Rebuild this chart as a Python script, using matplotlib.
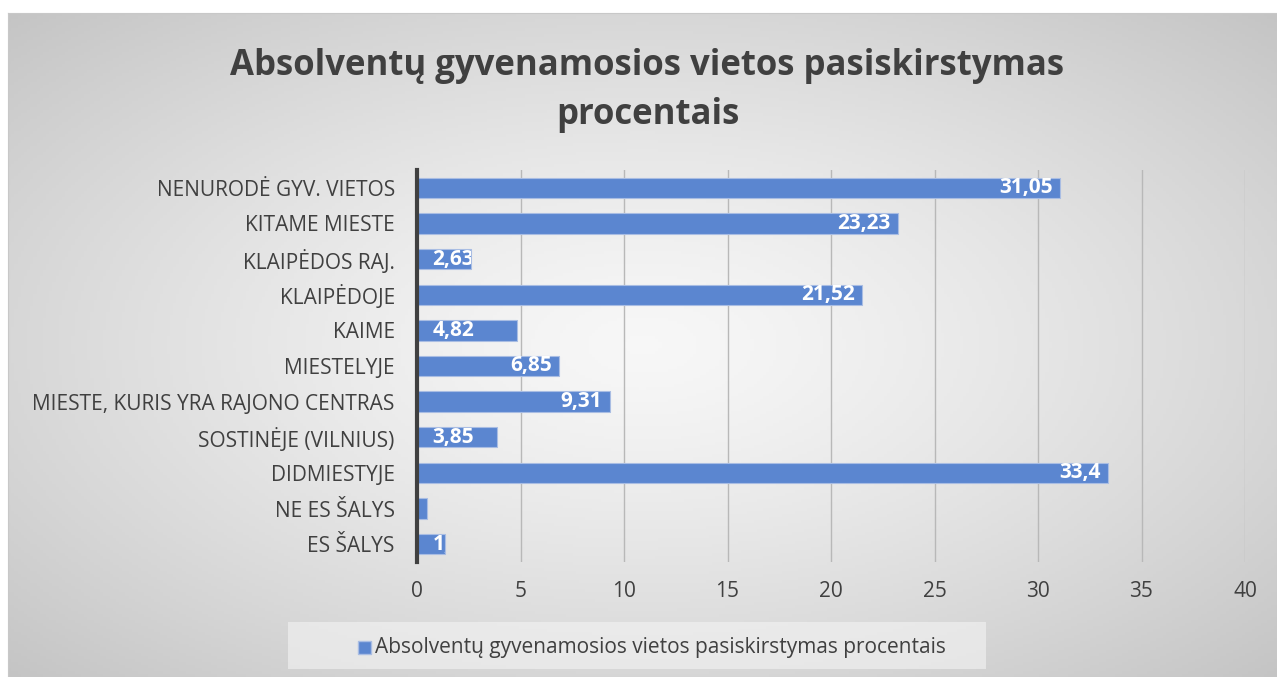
import numpy as np
import matplotlib.pyplot as plt
from matplotlib.patches import Rectangle

plt.rcParams["font.family"] = ["Open Sans", "DejaVu Sans"]

# duomenys
categories = ["NENURODĖ GYV. VIETOS", "KITAME MIESTE", "KLAIPĖDOS RAJ.", "KLAIPĖDOJE",
              "KAIME", "MIESTELYJE", "MIESTE, KURIS YRA RAJONO CENTRAS",
              "SOSTINĖJE (VILNIUS)", "DIDMIESTYJE", "NE ES ŠALYS", "ES ŠALYS"]
values = [31.05, 23.23, 2.63, 21.52, 4.82, 6.85, 9.31, 3.85, 33.4, 0.48, 1.35]
labels = ["31,05", "23,23", "2,63", "21,52", "4,82", "6,85", "9,31", "3,85", "33,4", "0,48", "1,35"]
title = "Absolventų gyvenamosios vietos pasiskirstymas\nprocentais"
series_name = "Absolventų gyvenamosios vietos pasiskirstymas procentais"

bar_color = "#5B86D0"
text_color = "#404040"

fig = plt.figure(figsize=(12.77, 6.77), dpi=100)

# fonas su radialiniu gradientu
bg = fig.add_axes([8 / 1277, 0, 1 - 8 / 1277, 1 - 13 / 677])
gx, gy = np.meshgrid(np.linspace(-1, 1, 400), np.linspace(-1, 1, 220))
r = np.sqrt(gx ** 2 + gy ** 2) / np.sqrt(2)
g = 0.97 - 0.20 * r ** 1.3
bg.imshow(np.dstack([g, g, g]), aspect="auto", extent=[0, 1, 0, 1])
bg.set_xlim(0, 1)
bg.set_ylim(0, 1)
for s in bg.spines.values():
    s.set_color("#c8c8c8")
bg.set_xticks([])
bg.set_yticks([])

ax = fig.add_axes([417 / 1277, 1 - 562 / 677, (1245 - 417) / 1277, (562 - 170) / 677])
ax.patch.set_alpha(0)
y = np.arange(len(categories))
bars = ax.barh(y, values, height=0.57, color=bar_color, edgecolor="#a9bde3", linewidth=0.8, zorder=3)
ax.set_xlim(0, 40)
ax.set_ylim(len(categories) - 0.5, -0.5)
ax.set_yticks(y)
ax.set_yticklabels(categories, fontsize=15, color=text_color)
ax.set_xticks(range(0, 41, 5))
ax.tick_params(axis="x", labelsize=15, labelcolor=text_color, length=0, pad=14)
ax.tick_params(axis="y", length=0, pad=16)
ax.grid(axis="x", color="#b8b8b8", linewidth=1, zorder=0)
for side in ["top", "right", "bottom"]:
    ax.spines[side].set_visible(False)
ax.spines["left"].set_color("#404040")
ax.spines["left"].set_linewidth(3)
ax.spines["left"].set_zorder(4)

# reikšmių etiketės
for b, v, lab in zip(bars, values, labels):
    if v > 5:
        t = ax.text(v - 0.35, b.get_y() + b.get_height() / 2, lab, ha="right", va="center",
                    color="white", fontsize=15, fontweight="bold", zorder=5)
    else:
        t = ax.text(0.75, b.get_y() + b.get_height() / 2, lab, ha="left", va="center",
                    color="white", fontsize=15, fontweight="bold", zorder=5)
    t.set_clip_on(True)
    t.set_clip_path(b)

fig.text(0.507, 0.866, title, ha="center", va="center", fontsize=25, fontweight="bold",
         color=text_color, linespacing=1.5)

# legenda
fig.patches.append(Rectangle((288 / 1277, 1 - 669 / 677), (986 - 288) / 1277, 47 / 677,
                             transform=fig.transFigure, facecolor="#f4f4f4", edgecolor="none",
                             alpha=0.6, zorder=1))
fig.patches.append(Rectangle((358 / 1277, 1 - 654 / 677), 13 / 1277, 13 / 677,
                             transform=fig.transFigure, facecolor=bar_color, edgecolor="#a9bde3",
                             zorder=2))
fig.text(375 / 1277, 1 - 647 / 677, series_name, ha="left", va="center", fontsize=15,
         color=text_color, zorder=3)

fig.savefig("out.png", dpi=100)
